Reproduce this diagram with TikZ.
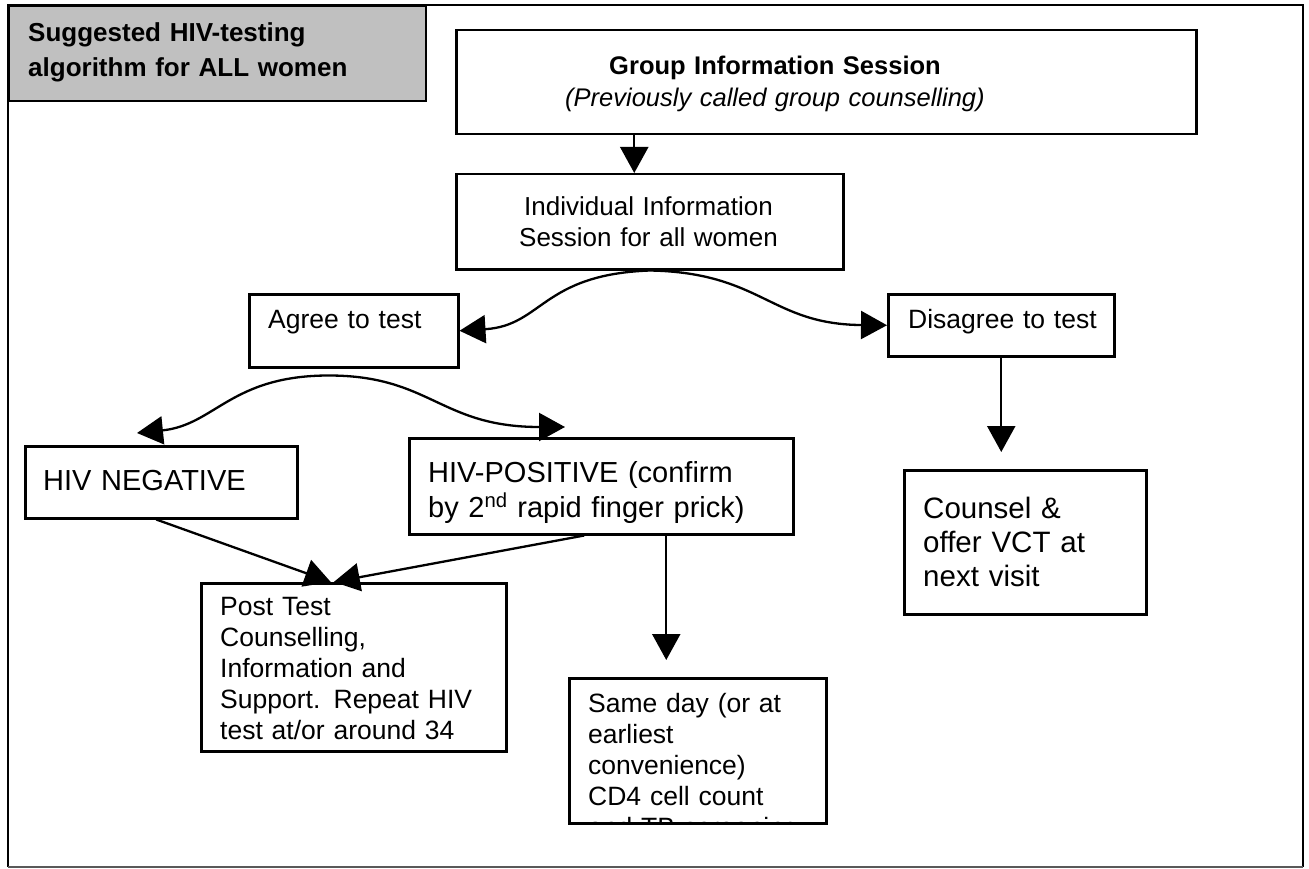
\documentclass[tikz,border=0pt]{standalone}
\usepackage{fontspec}
\setmainfont{Liberation Sans}
\usepackage{tikz}
\usetikzlibrary{arrows.meta}
\definecolor{titlegray}{RGB}{192,192,192}
\newcommand{\setfs}[2]{\fontsize{#1}{#2}\selectfont}

\begin{document}
\begin{tikzpicture}[x=1pt,y=-1pt,
  box/.style={draw, line width=2.5pt, anchor=north west, inner sep=0pt},
  txt/.style={anchor=base west, inner sep=0pt, align=left, text width=400pt},
  ctr/.style={anchor=base, inner sep=0pt, align=center},
  arr/.style={line width=2.3pt, -{Triangle[length=26pt,width=28pt]}},
  wave/.style={line width=2.3pt, {Triangle[length=26pt,width=28pt]}-{Triangle[length=26pt,width=28pt]}}]
  \useasboundingbox (0,0) rectangle (1309,869);
  \draw[line width=2pt] (8,867) -- (8,5) -- (1303,5) -- (1303,867);
  \draw[line width=2pt, black!65] (8,867) -- (1303,867);

  \node[box, line width=2pt, fill=titlegray, minimum width=417pt, minimum height=95pt] (title) at (8,5) {};
  \node[txt, font=\bfseries\setfs{26}{35}] (titlet) at (28,42) {Suggested HIV-testing\\algorithm for ALL women};

  \node[box, minimum width=740pt, minimum height=104pt] (group) at (455,29) {};
  \node[ctr, text width=700pt, font=\setfs{25.5}{32}] (groupt) at (775,75)
    {{\bfseries Group Information Session}\\{\itshape (Previously called group counselling)}};

  \node[box, minimum width=387pt, minimum height=95pt] (indiv) at (455,173) {};
  \node[ctr, text width=387pt, font=\setfs{26}{32}] (indivt) at (648.5,215) {Individual Information\\Session for all women};

  \node[box, minimum width=209pt, minimum height=73pt] (agree) at (248,293) {};
  \node[txt, font=\setfs{26.5}{31}] (agreet) at (268,328) {Agree to test};

  \node[box, minimum width=226pt, minimum height=62pt] (disagree) at (887,293) {};
  \node[txt, font=\setfs{26.5}{31}] (disagreet) at (908,328) {Disagree to test};

  \node[box, minimum width=242pt, minimum height=144pt] (counsel) at (903,469) {};
  \node[txt, font=\setfs{29.5}{34}] (counselt) at (923,518) {Counsel \&\\offer VCT at\\next visit};

  \node[box, minimum width=272pt, minimum height=72pt] (neg) at (24,445) {};
  \node[txt, font=\setfs{29}{35}] (negt) at (43,490) {HIV NEGATIVE};

  \node[box, minimum width=384pt, minimum height=96pt] (pos) at (408,437) {};
  \node[txt, font=\setfs{29}{35}] (post) at (428,482) {HIV-POSITIVE (confirm\\by 2\textsuperscript{nd} rapid finger prick)};

  \node[box, minimum width=305pt, minimum height=168pt] (posttest) at (200,582) {};
  \node[txt, font=\setfs{26.5}{31}] (posttestt) at (220,615)
    {Post Test\\Counselling,\\Information and\\Support. Repeat HIV\\test at/or around 34};

  \node[box, minimum width=257pt, minimum height=145pt] (same) at (568,677) {};
  \begin{scope}
    \clip (same.north west) rectangle (same.south east);
    \node[txt, font=\setfs{26.5}{31}] (samet) at (588,712)
      {Same day (or at\\earliest\\convenience)\\CD4 cell count\\and TB screening};
  \end{scope}

  \coordinate (gi) at ([xshift=-15.5pt]indiv.north);
  \coordinate (negin) at (137,433);
  \coordinate (posin) at (565,427);

  \draw[arr] (gi |- group.south) -- (gi);
  \draw[wave] (agree.east) .. controls +(83,-5) and +(-108,4) .. (indiv.south)
    .. controls +(112,2) and +(-117,-1) .. (disagree.west);
  \draw[wave] (negin) .. controls +(78,-8) and +(-98,0) .. ([xshift=-25pt,yshift=-7pt]agree.south)
    .. controls +(102,0) and +(-125,0) .. (posin);
  \draw[arr] (disagree.south) -- ([xshift=-24pt,yshift=17pt]counsel.north);
  \draw[arr] ([xshift=-5pt]neg.south) -- ([xshift=-23pt]posttest.north);
  \draw[arr] ([xshift=-17pt]pos.south) -- ([xshift=-20pt]posttest.north);
  \draw[arr] ([xshift=65pt]pos.south) -- ([xshift=-31.5pt,yshift=17pt]same.north);
\end{tikzpicture}
\end{document}
